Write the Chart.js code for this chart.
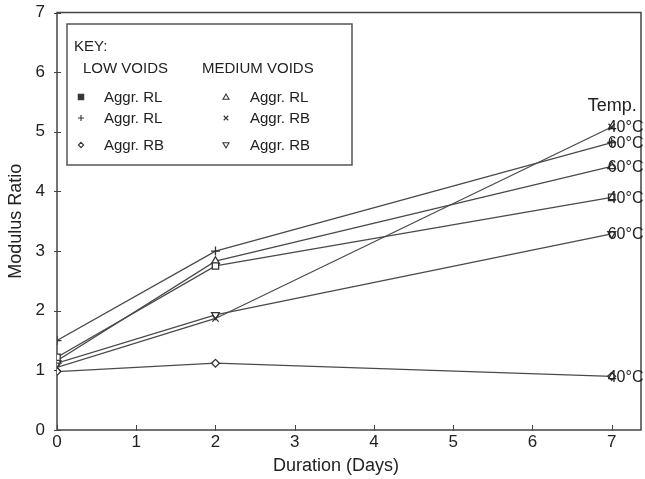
<!DOCTYPE html>
<html>
<head>
<meta charset="utf-8">
<script src="https://cdn.jsdelivr.net/npm/chart.js@4/dist/chart.umd.min.js"></script>
<style>
  html, body { margin: 0; padding: 0; background: #fff; }
  #wrap { width: 645px; height: 479px; }
</style>
</head>
<body>
<div id="wrap"><canvas id="c" width="645" height="479"></canvas></div>
<script>
// Test durations (days)
const days = [0, 2, 7];

// Modulus ratio per mix
const lowRL_sq   = [1.22, 2.75, 3.90];
const lowRL_plus = [1.50, 3.00, 4.82];
const lowRB      = [0.98, 1.12, 0.90];
const medRL      = [1.16, 2.83, 4.42];
const medRB_x    = [1.05, 1.87, 5.08];
const medRB_inv  = [1.12, 1.93, 3.29];

// Conditioning temperature of each mix (labelled at the last point)
const tempLabels = ['40°C', '60°C', '40°C', '60°C', '40°C', '60°C'];

const xTicks = [0, 1, 2, 3, 4, 5, 6, 7];
const yTicks = [0, 1, 2, 3, 4, 5, 6, 7];

const INK = '#333';
const LINE = '#4a4a4a';
const FONT = '"Liberation Sans", Arial, Helvetica, sans-serif';

const series = [
  { label: 'Aggr. RL', group: 'LOW VOIDS',    values: lowRL_sq,   style: 'rect',     rot: 0,   r: 3.6, fill: true },
  { label: 'Aggr. RL', group: 'LOW VOIDS',    values: lowRL_plus, style: 'cross',    rot: 0,   r: 3.6, fill: false },
  { label: 'Aggr. RB', group: 'LOW VOIDS',    values: lowRB,      style: 'rectRot',  rot: 0,   r: 3.0, fill: false },
  { label: 'Aggr. RL', group: 'MEDIUM VOIDS', values: medRL,      style: 'triangle', rot: 0,   r: 3.6, fill: false },
  { label: 'Aggr. RB', group: 'MEDIUM VOIDS', values: medRB_x,    style: 'crossRot', rot: 0,   r: 3.6, fill: false },
  { label: 'Aggr. RB', group: 'MEDIUM VOIDS', values: medRB_inv,  style: 'triangle', rot: 180, r: 3.6, fill: false }
];

const datasets = series.map((s, i) => ({
  label: s.label,
  data: days.map((d, j) => ({ x: d, y: s.values[j] })),
  showLine: true,
  borderColor: LINE,
  borderWidth: 1.3,
  pointStyle: s.style,
  pointRotation: s.rot,
  pointRadius: s.r + 0.9,
  pointBorderColor: INK,
  pointBorderWidth: 1.3,
  pointBackgroundColor: '#fff',
  temp: tempLabels[i]
}));

// Marker drawing for the key box
function marker(ctx, style, rot, x, y, r, fill) {
  ctx.save();
  ctx.translate(x, y);
  ctx.rotate(rot * Math.PI / 180);
  ctx.strokeStyle = INK;
  ctx.fillStyle = fill ? INK : '#fff';
  ctx.lineWidth = 1.1;
  ctx.beginPath();
  if (style === 'rect') {
    const s = r * 0.9;
    ctx.rect(-s, -s, 2 * s, 2 * s);
    ctx.fill(); ctx.stroke();
  } else if (style === 'cross') {
    ctx.moveTo(-r, 0); ctx.lineTo(r, 0);
    ctx.moveTo(0, -r); ctx.lineTo(0, r);
    ctx.stroke();
  } else if (style === 'crossRot') {
    const s = r * 0.75;
    ctx.moveTo(-s, -s); ctx.lineTo(s, s);
    ctx.moveTo(-s, s); ctx.lineTo(s, -s);
    ctx.stroke();
  } else if (style === 'rectRot') {
    ctx.moveTo(0, -r); ctx.lineTo(r, 0); ctx.lineTo(0, r); ctx.lineTo(-r, 0);
    ctx.closePath(); ctx.fill(); ctx.stroke();
  } else if (style === 'triangle') {
    ctx.moveTo(0, -r); ctx.lineTo(r, r * 0.75); ctx.lineTo(-r, r * 0.75);
    ctx.closePath(); ctx.fill(); ctx.stroke();
  }
  ctx.restore();
}

const framePlugin = {
  id: 'frame',
  beforeDatasetsDraw(chart) {
    const { ctx, chartArea: a, scales } = chart;
    ctx.save();
    ctx.strokeStyle = '#444';
    ctx.lineWidth = 1.5;
    ctx.strokeRect(a.left, a.top, a.right - a.left, a.bottom - a.top);
    ctx.lineWidth = 1;
    ctx.beginPath();
    yTicks.forEach(v => {
      const y = Math.round(scales.y.getPixelForValue(v)) + 0.5;
      ctx.moveTo(a.left - 3, y); ctx.lineTo(a.left + 4, y);
    });
    xTicks.forEach(v => {
      const x = Math.round(scales.x.getPixelForValue(v)) + 0.5;
      ctx.moveTo(x, a.bottom + 1); ctx.lineTo(x, a.bottom - 5);
    });
    ctx.stroke();
    ctx.restore();
  },
  afterDatasetsDraw(chart) {
    const { ctx, scales } = chart;
    ctx.save();
    ctx.fillStyle = '#222';
    ctx.font = '16px ' + FONT;
    ctx.textBaseline = 'middle';
    ctx.textAlign = 'left';
    chart.data.datasets.forEach((ds, i) => {
      const pts = chart.getDatasetMeta(i).data;
      const p = pts[pts.length - 1];
      ctx.fillText(ds.temp, p.x - 4, p.y + 1);
    });
    ctx.font = '18px ' + FONT;
    const topPt = chart.getDatasetMeta(4).data[2];
    ctx.fillText('Temp.', topPt.x - 24, topPt.y - 21);

    // x-axis title, centred under the day range
    ctx.textAlign = 'center';
    ctx.fillText('Duration (Days)', scales.x.getPixelForValue(3.52), 466);

    // Key box
    ctx.textAlign = 'left';
    const bx = 67, by = 24, bw = 285, bh = 141;
    ctx.fillStyle = '#fff';
    ctx.fillRect(bx, by, bw, bh);
    ctx.strokeStyle = '#555';
    ctx.lineWidth = 1.5;
    ctx.strokeRect(bx, by, bw, bh);
    ctx.fillStyle = '#222';
    ctx.font = '15px ' + FONT;
    ctx.fillText('KEY:', 74, 47);
    ctx.fillText('LOW VOIDS', 83, 69);
    ctx.fillText('MEDIUM VOIDS', 202, 69);
    const rows = [97, 118, 145];
    series.forEach((s, i) => {
      const col = i < 3 ? 0 : 1;
      const y = rows[i % 3];
      const mx = col === 0 ? 81 : 226;
      const tx = col === 0 ? 104 : 250;
      marker(ctx, s.style, s.rot, mx, y, s.style === 'rectRot' ? 2.6 : 3.0, s.fill);
      ctx.fillStyle = '#222';
      ctx.fillText(s.label, tx, y + 1);
    });
    ctx.restore();
  }
};

new Chart(document.getElementById('c'), {
  type: 'scatter',
  data: { datasets },
  plugins: [framePlugin],
  options: {
    responsive: false,
    animation: false,
    devicePixelRatio: 1,
    layout: { autoPadding: false, padding: { top: 12.5, right: 4, left: 0, bottom: 0 } },
    plugins: { legend: { display: false }, tooltip: { enabled: false } },
    scales: {
      x: {
        type: 'linear',
        min: 0,
        max: 7.37,
        afterBuildTicks(scale) { scale.ticks = xTicks.map(v => ({ value: v })); },
        afterFit(scale) { scale.height = 49; scale.paddingLeft = 0; scale.paddingRight = 0; },
        grid: { display: false, drawTicks: false },
        border: { display: false },
        ticks: { color: '#222', font: { family: FONT, size: 17 }, padding: 2, maxRotation: 0 },
        title: { display: false }
      },
      y: {
        min: 0,
        max: 7,
        afterBuildTicks(scale) { scale.ticks = yTicks.map(v => ({ value: v })); },
        afterFit(scale) { scale.width = 57; scale.paddingTop = 0; scale.paddingBottom = 0; },
        grid: { display: false, drawTicks: false },
        border: { display: false },
        ticks: { color: '#222', font: { family: FONT, size: 17 }, padding: 12 },
        title: { display: true, text: 'Modulus Ratio', color: '#222', font: { family: FONT, size: 18 }, padding: { top: 5, bottom: 0 } }
      }
    }
  }
});
</script>
</body>
</html>
